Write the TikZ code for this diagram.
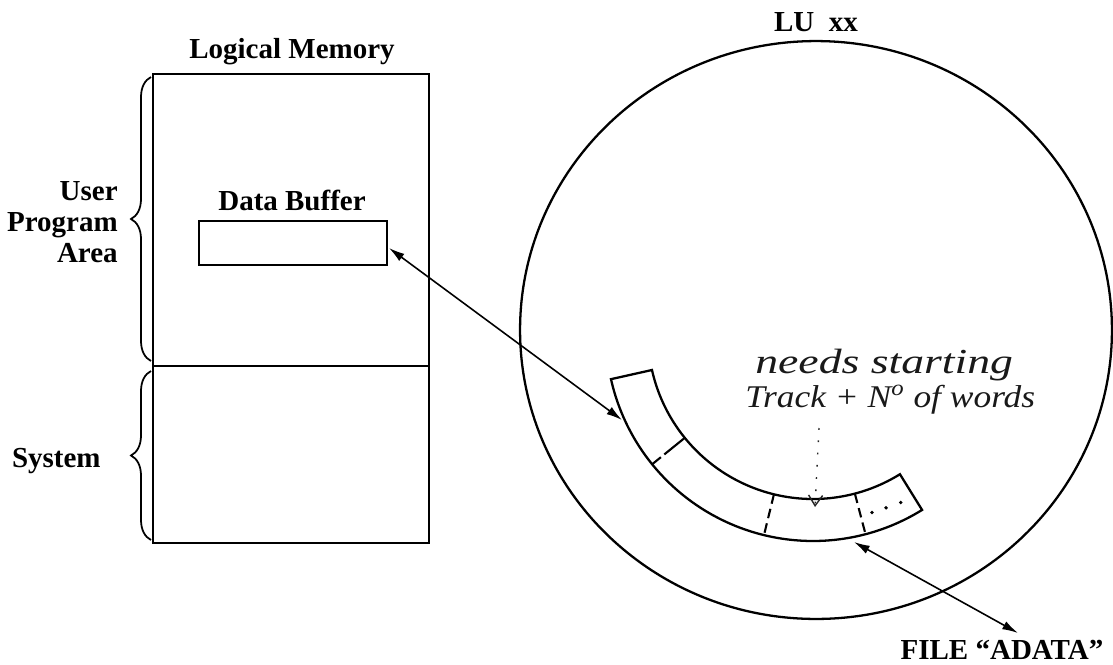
\documentclass[tikz,border=0pt]{standalone}
\usepackage{fontspec}
\setmainfont{Liberation Serif}
\usetikzlibrary{arrows.meta,decorations.pathreplacing,calc}
\begin{document}
\begin{tikzpicture}[x=0.02cm,y=-0.02cm,
  lbl/.style={font=\bfseries\fontsize{16.5}{17.6}\selectfont, inner sep=0pt},
  heavy/.style={line width=1.4pt},
  link/.style={line width=0.9pt, {Latex[length=9pt,width=5pt]}-{Latex[length=9pt,width=5pt]}},
  hand/.style={text=black!90, inner sep=0pt},
  brc/.style={decorate, decoration={brace, amplitude=0.4cm}, line width=1pt},
  band/.style={line width=1.3pt, line join=miter}]

\useasboundingbox (0,0) rectangle (1113,664);

% logical memory
\node[draw, heavy, minimum width=5.52cm, minimum height=9.38cm, inner sep=0pt] (mem) at (291,308.5) {};
\coordinate (divL) at (153,366);
\coordinate (divR) at (429,366);
\draw[heavy] (divL) -- (divR);
\node[draw, heavy, minimum width=3.76cm, minimum height=0.88cm, inner sep=0pt] (buf) at (293,243) {};

\node[lbl] (lm) at (292,52) {Logical Memory};
\node[lbl] (db) at (292,200) {Data Buffer};
\node[lbl, align=right, anchor=east] (upa) at (118,222) {User\\Program\\Area};
\node[lbl, anchor=east] (sys) at (101,461) {System};

\draw[brc] (151,361) -- (151,77);
\draw[brc] (151,540) -- (151,371);

% disk
\draw[line width=1.3pt] (816,330) ellipse [x radius=5.92cm, y radius=5.78cm];
\node[lbl] (lu) at (816,22) {LU~~xx};

\coordinate (ctr) at (813,334);
\draw[band] plot[domain=167.4:58.2, samples=90] ({813+207*cos(\x)},{334+207*sin(\x)})
  -- plot[domain=58.2:167.4, samples=90] ({813+165*cos(\x)},{334+165*sin(\x)}) -- cycle;

\draw[line width=1.2pt, dash pattern=on 15pt off 2.5pt on 6pt] ($(ctr)+(141:165)$) -- ($(ctr)+(141:207)$);
\draw[line width=1.2pt, dash pattern=on 5.5pt off 3pt] ($(ctr)+(103.7:165)$) -- ($(ctr)+(103.7:207)$);
\draw[line width=1.2pt, dash pattern=on 5.5pt off 3pt] ($(ctr)+(75.3:165)$) -- ($(ctr)+(75.3:207)$);
\fill ($(ctr)+(71.7:188)$) circle (1.1pt);
\fill ($(ctr)+(67.2:188.5)$) circle (1.1pt);
\fill ($(ctr)+(62.5:190)$) circle (1.1pt);

% connectors
\coordinate (bufR) at (389,248);
\coordinate (bandA) at (622,420);
\draw[link] (bufR) -- (bandA);
\coordinate (bandB) at (854,542);
\coordinate (fileT) at (1018,633);
\draw[link] (bandB) -- (fileT);
\node[lbl] (file) at (1002,650) {FILE “ADATA”};

% handwritten note
\node[hand, anchor=base west, font=\itshape\fontsize{20}{22}\selectfont] (h1) at (755,373) {\scalebox{1.3}[1]{needs starting}};
\node[hand, anchor=base west, font=\itshape\fontsize{18}{20}\selectfont] (h2) at (745,407) {\scalebox{1.12}[1]{Track + N\textsuperscript{o} of words}};
\coordinate (hA) at (819,428);
\coordinate (hB) at (815,507);
\draw[black!85, line width=0.8pt, dash pattern=on 1pt off 6pt, -{Straight Barb[length=6pt,width=8pt]}] (hA) -- (hB);
\end{tikzpicture}
\end{document}
